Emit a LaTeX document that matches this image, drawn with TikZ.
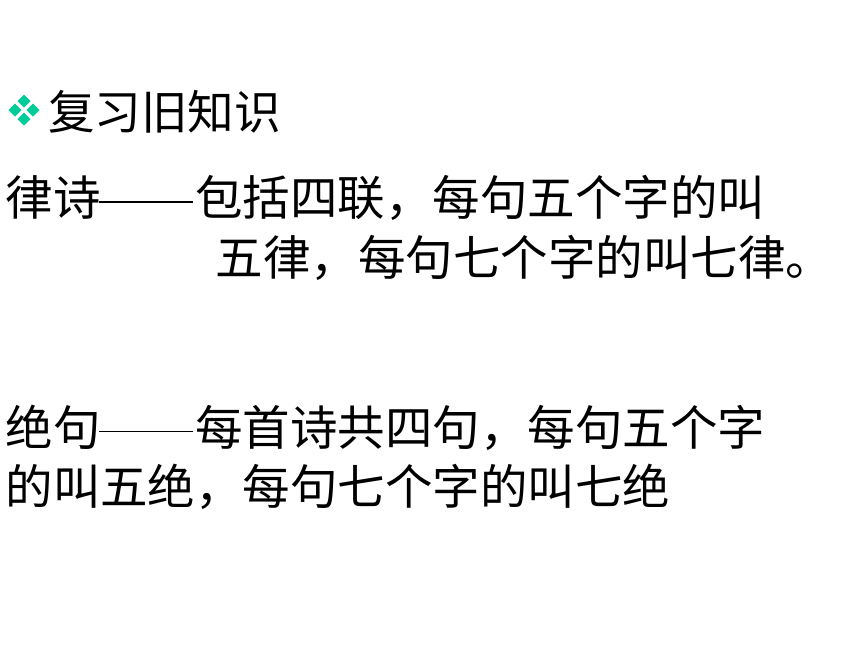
\documentclass[tikz,border=0pt]{standalone}
\usepackage{fontspec}
\setmainfont{Noto Sans CJK SC}
\definecolor{bulletteal}{HTML}{00CC99}
\newcommand{\longdash}{\makebox[95pt][l]{\hspace{-1.5pt}\rule[12.8pt]{94pt}{1.4pt}}}
\begin{document}
\begin{tikzpicture}[x=1pt,y=-1pt,
  txt/.style={anchor=base west,inner sep=0pt,outer sep=0pt,font=\fontsize{47.5}{50}\selectfont},
  head/.style={anchor=base west,inner sep=0pt,outer sep=0pt,font=\fontsize{46.6}{50}\selectfont}]
\useasboundingbox (0,0) rectangle (860,645);
% bullet
\foreach \cx/\cy in {24/101,15/110,33/110,24/119}{
  \fill[bulletteal] (\cx-6.5,\cy) -- (\cx,\cy-6.5) -- (\cx+6.5,\cy) -- (\cx,\cy+6.5) -- cycle;
}
\node[head] (h) at (48,129) {复习旧知识};
\node[txt] (l1) at (5.5,215.5) {律诗\longdash 包括四联，每句五个字的叫};
\node[txt] (l2) at (215.5,275) {五律，每句七个字的叫七律。};
\node[txt] (l3) at (5.5,445) {绝句\longdash 每首诗共四句，每句五个字};
\node[txt] (l4) at (5.5,504) {的叫五绝，每句七个字的叫七绝};
\end{tikzpicture}
\end{document}
